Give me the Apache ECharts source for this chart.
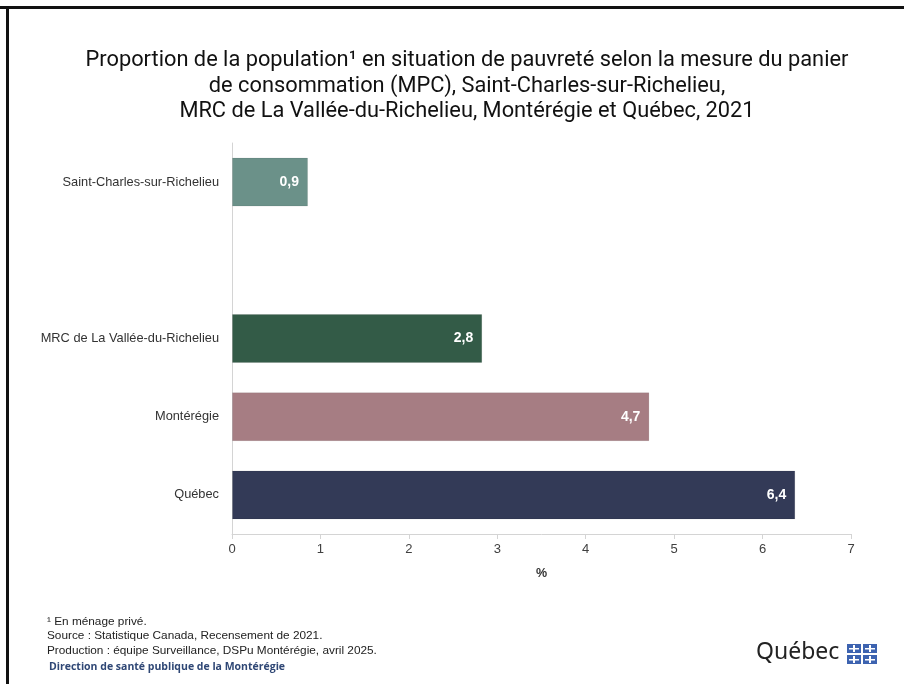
<!DOCTYPE html>
<html>
<head>
<meta charset="utf-8">
<script src="https://cdn.jsdelivr.net/npm/echarts@6/dist/echarts.min.js"></script>
<style>
  html, body { margin: 0; padding: 0; background: #fff; }
  #chart { width: 904px; height: 684px; }
</style>
</head>
<body>
<div id="chart"></div>
<script>
// categories top to bottom; the empty slot is the gap in the original
const categories = ['Saint-Charles-sur-Richelieu', '', 'MRC de La Vallée-du-Richelieu', 'Montérégie', 'Québec'];
const values = [0.86, null, 2.83, 4.72, 6.37];
const barColors = ['#6b9189', '#ffffff', '#335b47', '#a67d83', '#333a57'];
const xTicks = [0, 1, 2, 3, 4, 5, 6, 7];

const titleLines = [
  'Proportion de la population\u00b9 en situation de pauvreté selon la mesure du panier',
  'de consommation (MPC), Saint-Charles-sur-Richelieu,',
  'MRC de La Vallée-du-Richelieu, Montérégie et Québec, 2021'
];
const notes = [
  '\u00b9 En ménage privé.',
  'Source : Statistique Canada, Recensement de 2021.',
  'Production : équipe Surveillance, DSPu Montérégie, avril 2025.'
];

const fmt = (v) => v.toFixed(1).replace('.', ',');

const chart = echarts.init(document.getElementById('chart'), null, { renderer: 'canvas' });

const flag = [];
[[847, 644], [863, 644], [847, 655], [863, 655]].forEach(([x, y]) => {
  flag.push({ type: 'rect', shape: { x, y, width: 14, height: 9 }, style: { fill: '#3d63b0' } });
  flag.push({ type: 'rect', shape: { x: x + 6, y: y + 1, width: 2, height: 7 }, style: { fill: '#fff' } });
  flag.push({ type: 'rect', shape: { x: x + 2, y: y + 4, width: 10, height: 1.5 }, style: { fill: '#fff' } });
});

chart.setOption({
  animation: false,
  title: {
    text: titleLines.join('\n'),
    left: 462,
    top: 43,
    textAlign: 'center',
    textStyle: {
      fontFamily: '"Roboto", sans-serif',
      fontSize: 21.8,
      fontWeight: 'normal',
      color: '#111',
      lineHeight: 25.5
    }
  },
  grid: { left: 232, right: 53, top: 143, bottom: 150 },
  xAxis: {
    type: 'value',
    min: 0,
    max: 7,
    interval: 1,
    name: '%',
    nameLocation: 'middle',
    nameGap: 33,
    nameTextStyle: { fontFamily: 'Liberation Sans, Arial, sans-serif', fontSize: 12.5, fontWeight: 'bold', color: '#333' },
    splitLine: { show: false },
    axisLine: { show: true, lineStyle: { color: '#d4d4d4', width: 1 } },
    axisTick: { show: true, length: 5, lineStyle: { color: '#d4d4d4' } },
    axisLabel: {
      margin: 9,
      fontFamily: 'Liberation Sans, Arial, sans-serif',
      fontSize: 13,
      color: '#404040',
      formatter: (v) => xTicks.includes(v) ? String(v) : ''
    }
  },
  yAxis: {
    type: 'category',
    inverse: true,
    data: categories,
    axisLine: { show: true, lineStyle: { color: '#d4d4d4', width: 1 } },
    axisTick: { show: false },
    axisLabel: {
      margin: 13,
      fontFamily: 'Liberation Sans, Arial, sans-serif',
      fontSize: 12.8,
      color: '#333'
    }
  },
  series: [{
    type: 'bar',
    barWidth: 49,
    data: values.map((v, i) => ({ value: v, itemStyle: { color: barColors[i], borderColor: 'rgba(0,0,0,0.08)', borderWidth: 1 } })),
    label: {
      show: true,
      position: 'insideRight',
      distance: 9,
      color: '#fff',
      fontFamily: 'Liberation Sans, Arial, sans-serif',
      fontSize: 14,
      fontWeight: 'bold',
      formatter: (p) => p.value == null ? '' : fmt(p.value)
    }
  }],
  graphic: [
    { type: 'rect', shape: { x: 0, y: 6, width: 904, height: 3 }, style: { fill: '#111' } },
    { type: 'rect', shape: { x: 6, y: 6, width: 3, height: 678 }, style: { fill: '#111' } },
    {
      type: 'text', left: 47, top: 614,
      style: { text: notes.join('\n'), fill: '#222', font: '11.8px "Liberation Sans", Arial, sans-serif', lineHeight: 14.5 }
    },
    {
      type: 'text', left: 49, top: 662,
      style: { text: 'Direction de santé publique de la Montérégie', fill: '#2f4775', font: 'bold 10.5px "Open Sans", "Noto Sans", sans-serif' }
    },
    {
      type: 'text', left: 756, top: 641,
      style: { text: 'Québec', fill: '#222', font: '23px "Noto Sans", "DejaVu Sans", sans-serif' }
    },
    ...flag
  ]
});
</script>
</body>
</html>
